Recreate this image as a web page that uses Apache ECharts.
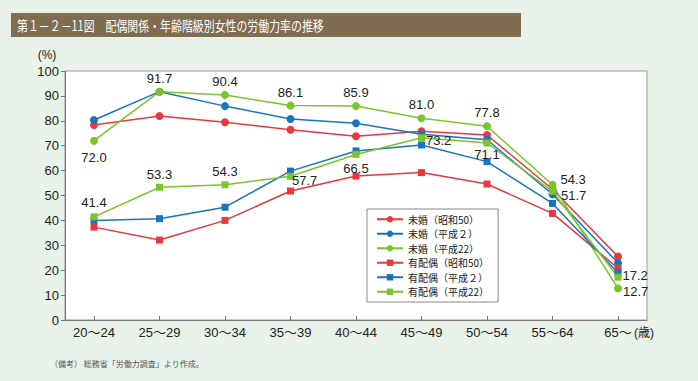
<!DOCTYPE html>
<html><head><meta charset="utf-8">
<script src="https://cdn.jsdelivr.net/npm/echarts@6/dist/echarts.min.js"></script>
<style>html,body{margin:0;padding:0;background:#e8f2e9;}#c{width:698px;height:381px;}</style>
</head><body><div id="c"></div>
<script>
// ---- data ----
const categories = ['20～24','25～29','30～34','35～39','40～44','45～49','50～54','55～64','65～'];
const seriesNames = ['未婚（昭和50）','未婚（平成２）','未婚（平成22）','有配偶（昭和50）','有配偶（平成２）','有配偶（平成22）'];
const unmarriedS50 = [78.3, 81.9, 79.4, 76.4, 73.8, 75.8, 74.3, 52.5, 25.5];
const unmarriedH2  = [80.3, 91.7, 85.9, 80.7, 79.0, 74.6, 72.4, 50.5, 22.9];
const unmarriedH22 = [72.0, 91.7, 90.4, 86.1, 85.9, 81.0, 77.8, 54.3, 12.7];
const marriedS50   = [37.3, 32.1, 40.0, 51.8, 57.8, 59.2, 54.6, 42.8, 20.8];
const marriedH2    = [40.0, 40.7, 45.3, 59.8, 67.9, 70.3, 63.6, 46.8, 19.0];
const marriedH22   = [41.4, 53.3, 54.3, 57.7, 66.5, 73.2, 71.1, 51.7, 17.2];
const yTicks = [0,10,20,30,40,50,60,70,80,90,100];

// ---- label placement (style, not data) ----
const unmH22Lab = [
  {position:'bottom',distance:6},{position:'top',distance:3},{position:'top',distance:3},{position:'top',distance:3},
  {position:'top',distance:3},{position:'top',distance:3},{position:'top',distance:3},
  {position:'right',distance:4,offset:[0,-5]},{position:'right',distance:1,offset:[0,3.5]}];
const marH22Lab = [
  {position:'top',distance:4},{position:'top',distance:3},{position:'top',distance:3},
  {position:'right',distance:0,offset:[-2,4]},{position:'bottom',distance:4},{position:'right',distance:1,offset:[0,3]},
  {position:'bottom',distance:2},{position:'right',distance:5,offset:[0,4]},{position:'right',distance:1,offset:[0,-1.5]}];

const RED='#e8383d', BLUE='#1775c0', GREEN='#7cc42c';
const labelFont = {fontSize:13, color:'#222', fontFamily:'Liberation Sans, Arial, sans-serif'};

function mk(name, vals, color, symbol, size, labs){
  const data = vals.map((v,i)=> labs ? {value:v, label:Object.assign({show:true, formatter:(p)=>p.value.toFixed(1)}, labelFont, labs[i])} : v);
  return {name, type:'line', xAxisIndex:1, yAxisIndex:1, data, color,
    symbol, symbolSize:size, showAllSymbol:true,
    lineStyle:{width:1.5,color}, itemStyle:{color}, emphasis:{disabled:true}, animation:false};
}

const chart = echarts.init(document.getElementById('c'), null, {renderer:'svg'});
chart.setOption({
  animation:false,
  backgroundColor:'#e8f2e9',
  textStyle:{fontFamily:'Liberation Sans, "Noto Sans CJK JP", sans-serif'},
  grid:[
    {left:65, top:71, width:582, height:249, show:true, backgroundColor:'#fff', borderColor:'#999', borderWidth:1},
    {left:94, top:71, width:524, height:249}
  ],
  xAxis:[
    {gridIndex:0, type:'value', min:0, max:1, axisLine:{show:true, lineStyle:{color:'#777'}}, axisTick:{show:false}, axisLabel:{show:false}, splitLine:{show:false}},
    {gridIndex:1, type:'category', data:categories, boundaryGap:false,
      axisLine:{show:false}, axisTick:{show:true, inside:true, length:4, lineStyle:{color:'#777'}},
      axisLabel:{fontSize:13, color:'#222', margin:6, fontFamily:'Liberation Sans, "Noto Sans CJK JP", sans-serif'}, splitLine:{show:false}}
  ],
  yAxis:[
    {gridIndex:0, type:'value', min:yTicks[0], max:yTicks[yTicks.length-1], interval:10,
      axisLine:{show:true, lineStyle:{color:'#777'}}, axisTick:{show:true, length:4, lineStyle:{color:'#777'}},
      axisLabel:{fontSize:13, color:'#222', margin:6}, splitLine:{show:false}},
    {gridIndex:1, type:'value', min:0, max:100, show:false}
  ],
  legend:{orient:'vertical', left:367, top:209, backgroundColor:'#fff', borderColor:'#888', borderWidth:1,
    padding:[3,9,3,9], itemWidth:26, itemHeight:8, itemGap:0,
    textStyle:{fontSize:10, lineHeight:14.5, color:'#222', fontFamily:'"Noto Sans CJK JP", sans-serif'},
    data:seriesNames, selectedMode:false},
  graphic:[
    {type:'rect', shape:{x:11,y:13,width:510,height:24}, style:{fill:'#806c50'}},
    {type:'text', x:17, y:25, scaleX:0.78, style:{text:'第１－２－11図　配偶関係・年齢階級別女性の労働力率の推移', fill:'#fff', font:'14px "Noto Sans CJK JP"', textVerticalAlign:'middle'}},
    {type:'text', x:47, y:55, style:{text:'(%)', fill:'#222', font:'12px "Liberation Sans"', textAlign:'center', textVerticalAlign:'middle'}},
    {type:'text', x:634, y:333, style:{text:'(歳)', fill:'#222', font:'12px "Liberation Sans", "Noto Sans CJK JP"', textAlign:'left', textVerticalAlign:'middle'}},
    {type:'text', x:50, y:363, style:{text:'（備考） 総務省「労働力調査」より作成。', fill:'#555', font:'8px "Noto Sans CJK JP"', textVerticalAlign:'middle'}}
  ],
  series:[
    mk(seriesNames[0], unmarriedS50, RED, 'circle', 8),
    mk(seriesNames[1], unmarriedH2, BLUE, 'circle', 8),
    mk(seriesNames[2], unmarriedH22, GREEN, 'circle', 8, unmH22Lab),
    mk(seriesNames[3], marriedS50, RED, 'rect', 7),
    mk(seriesNames[4], marriedH2, BLUE, 'rect', 7),
    mk(seriesNames[5], marriedH22, GREEN, 'rect', 7, marH22Lab)
  ]
});
</script></body></html>
